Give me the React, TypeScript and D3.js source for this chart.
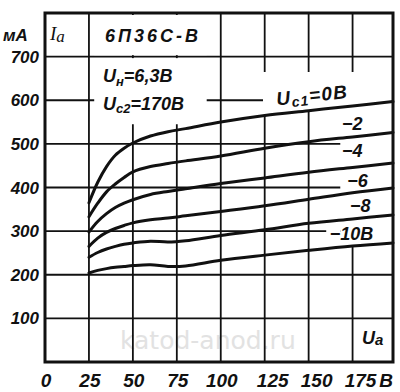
import React, { useEffect, useRef } from 'react';
import * as d3 from 'd3';

// anode voltage points, V
const anodeVoltage = [25, 30, 35, 40, 45, 50, 60, 70, 80, 100, 125, 150, 175, 198];

// anode current, mA, for each grid-1 voltage
const gridVoltage = ['0', '-2', '-4', '-6', '-8', '-10'];
const ia0 = [365, 412, 448, 474, 490, 502, 518, 528, 535, 550, 565, 576, 587, 597];
const ia2 = [333, 364, 390, 408, 423, 436, 448, 455, 461, 472, 490, 505, 516, 526];
const ia4 = [298, 322, 340, 354, 364, 372, 384, 391, 397, 409, 422, 435, 446, 456];
const ia6 = [265, 284, 297, 306, 313, 319, 326, 330, 335, 345, 358, 373, 388, 399];
const ia8 = [240, 251, 259, 265, 270, 273, 277, 275, 278, 290, 303, 318, 328, 337];
const ia10 = [204, 210, 214, 217, 219, 221, 223, 219, 220, 233, 245, 256, 266, 273];
const curves = [ia0, ia2, ia4, ia6, ia8, ia10];

const xTicks = [0, 25, 50, 75, 100, 125, 150, 175];
const yTicks = [100, 200, 300, 400, 500, 600, 700];

const FONT = '"Liberation Sans", Arial, sans-serif';

const App = () => {
    const ref = useRef<SVGSVGElement>(null);

    useEffect(() => {
        const svg = d3.select(ref.current);
        svg.selectAll('*').remove();

        const x = d3.scaleLinear().domain([0, 198]).range([45, 393]);
        const y = d3.scaleLinear().domain([0, 800]).range([362, 13]);

        const line = d3.line<number>()
            .x((d, i) => x(anodeVoltage[i]))
            .y(d => y(d))
            .curve(d3.curveCatmullRom.alpha(0.5));

        const txt = (sel: any) => sel
            .attr('font-family', FONT)
            .attr('font-style', 'italic')
            .attr('font-weight', 'bold')
            .attr('fill', '#111');

        // watermark
        svg.append('text')
            .attr('x', 120).attr('y', 349)
            .attr('font-family', '"DejaVu Sans", sans-serif')
            .attr('font-size', 25)
            .attr('fill', '#e2e2e2')
            .text('katod-anod.ru');

        // grid
        const grid = svg.append('g').attr('stroke', '#111').attr('stroke-width', 1.8);
        grid.selectAll('.vx')
            .data(xTicks.slice(1))
            .enter().append('line')
            .attr('x1', d => x(d)).attr('x2', d => x(d))
            .attr('y1', y(800)).attr('y2', y(0));
        grid.selectAll('.hy')
            .data(yTicks)
            .enter().append('line')
            .attr('x1', x(0)).attr('x2', x(198))
            .attr('y1', d => y(d)).attr('y2', d => y(d));

        // white patches where the grid is broken by lettering
        const masks = svg.append('g').attr('fill', '#fff');
        masks.append('rect')
            .attr('x', x(28)).attr('y', y(800) + 2)
            .attr('width', x(92) - x(28)).attr('height', y(700) - y(800) - 3.5);
        masks.append('rect')
            .attr('x', x(28)).attr('y', y(700) + 1.5)
            .attr('width', x(92) - x(28)).attr('height', y(545) - y(700) - 1.5);

        const clipUc1 = svg.append('clipPath').attr('id', 'clip-uc1');
        clipUc1.append('rect').attr('x', x(124)).attr('y', 0).attr('width', x(198) - x(124)).attr('height', 400);
        masks.append('path')
            .attr('clip-path', 'url(#clip-uc1)')
            .attr('d', d3.area<number>()
                .x((d, i) => x(anodeVoltage[i]))
                .y0(y(665))
                .y1(d => y(d))
                .curve(d3.curveCatmullRom.alpha(0.5))(ia0));

        const clipCol = svg.append('clipPath').attr('id', 'clip-col');
        clipCol.append('rect').attr('x', x(168)).attr('y', 0).attr('width', x(198) - x(168)).attr('height', 400);
        masks.append('path')
            .attr('clip-path', 'url(#clip-col)')
            .attr('d', d3.area<number>()
                .x((d, i) => x(anodeVoltage[i]))
                .y0((d, i) => y(ia10[i]))
                .y1(d => y(d))
                .curve(d3.curveCatmullRom.alpha(0.5))(ia0));
        masks.append('rect')
            .attr('x', x(160)).attr('y', y(310))
            .attr('width', x(168) - x(160)).attr('height', y(275) - y(310));

        // characteristic curves
        svg.append('g')
            .selectAll('path')
            .data(curves)
            .enter().append('path')
            .attr('d', d => line(d))
            .attr('fill', 'none')
            .attr('stroke', '#111')
            .attr('stroke-width', 3)
            .attr('stroke-linecap', 'round');

        // frame
        svg.append('rect')
            .attr('x', x(0)).attr('y', y(800))
            .attr('width', x(198) - x(0)).attr('height', y(0) - y(800))
            .attr('fill', 'none').attr('stroke', '#111').attr('stroke-width', 3);

        // tick labels
        svg.append('g').selectAll('text')
            .data(yTicks)
            .enter().append('text')
            .call(txt)
            .attr('x', 39).attr('y', d => y(d) + 6)
            .attr('text-anchor', 'end')
            .attr('font-size', 17)
            .text(d => d);
        svg.append('g').selectAll('text')
            .data(xTicks)
            .enter().append('text')
            .call(txt)
            .attr('x', d => x(d) + (d > 100 ? 8 : 1)).attr('y', 387)
            .attr('text-anchor', 'middle')
            .attr('font-size', 19)
            .text(d => d);
        svg.append('text').call(txt)
            .attr('x', 386).attr('y', 387).attr('text-anchor', 'middle')
            .attr('font-size', 19).text('В');

        // axis names and title
        svg.append('text').call(txt)
            .attr('x', 3).attr('y', 41).attr('font-size', 17).text('мА');
        const ia = svg.append('text').call(txt).attr('x', 50).attr('y', 40).attr('font-size', 19)
            .attr('font-weight', 'normal').attr('font-family', '"Liberation Serif", serif');
        ia.append('tspan').text('I');
        ia.append('tspan').attr('dy', 2).attr('font-size', 17).text('a');
        svg.append('text').call(txt)
            .attr('x', 105).attr('y', 42).attr('font-size', 18)
            .attr('letter-spacing', 3).text('6П36С-В');
        const ua = svg.append('text').call(txt).attr('x', 362).attr('y', 344).attr('font-size', 18);
        ua.append('tspan').text('U');
        ua.append('tspan').attr('dy', 1).attr('font-size', 15).text('a');

        // operating conditions
        const uh = svg.append('text').call(txt).attr('x', 103).attr('y', 82).attr('font-size', 18);
        uh.append('tspan').text('U');
        uh.append('tspan').attr('dy', 4).attr('font-size', 13).text('н');
        uh.append('tspan').attr('dy', -4).text('=6,3В');
        const uc2 = svg.append('text').call(txt).attr('x', 103).attr('y', 110).attr('font-size', 18);
        uc2.append('tspan').text('U');
        uc2.append('tspan').attr('dy', 3).attr('font-size', 13).text('с2');
        uc2.append('tspan').attr('dy', -3).text('=170В');

        // grid-1 voltage labels
        const uc1 = svg.append('text').call(txt)
            .attr('transform', `translate(${x(132)},${y(588)}) rotate(-6)`)
            .attr('font-size', 19)
            .attr('letter-spacing', 1.2);
        uc1.append('tspan').text('U');
        uc1.append('tspan').attr('dy', 3).attr('font-size', 14).text('с1');
        uc1.append('tspan').attr('dy', -3).text('=0В');

        const labelPos = [
            { v: 169, ma: 532, t: '−' + gridVoltage[1].slice(1) },
            { v: 169, ma: 470, t: '−' + gridVoltage[2].slice(1) },
            { v: 172, ma: 401, t: '−' + gridVoltage[3].slice(1) },
            { v: 173.5, ma: 344, t: '−' + gridVoltage[4].slice(1) },
            { v: 162, ma: 280, t: '−' + gridVoltage[5].slice(1) + 'В' },
        ];
        svg.append('g').selectAll('text')
            .data(labelPos)
            .enter().append('text')
            .call(txt)
            .attr('x', d => x(d.v)).attr('y', d => y(d.ma))
            .attr('font-size', 18)
            .text(d => d.t);
    }, []);

    return (
        <svg ref={ref} width={400} height={392}
            style={{ position: 'absolute', left: 0, top: 0, background: '#fff' }}></svg>
    );
};

export default App;
